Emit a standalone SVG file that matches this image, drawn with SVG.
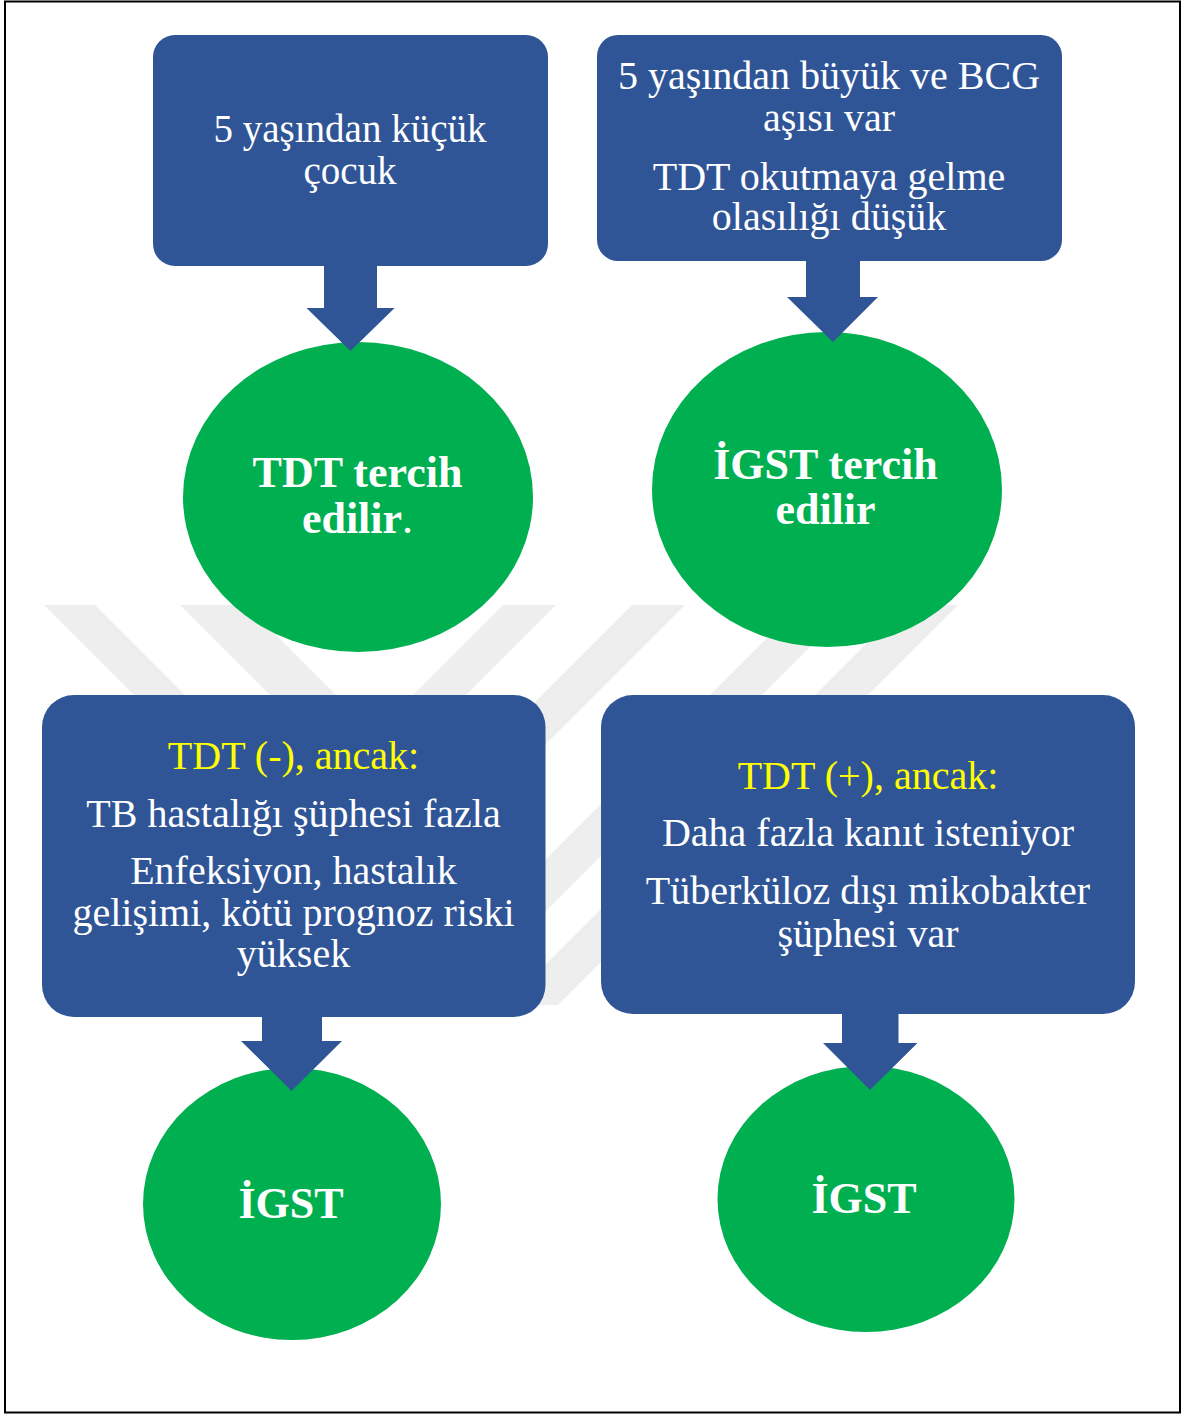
<svg xmlns="http://www.w3.org/2000/svg" width="1187" height="1414" viewBox="0 0 1187 1414">
  <style>
    .box { fill: #2F5597; }
    .oval { fill: #00B050; }
    .arrow { fill: #2F5597; }
    .wm { fill: #EEEEEE; }
    .t { font-family: "Liberation Serif", "Times New Roman", serif; font-size: 40px; fill: #FFFFFF; text-anchor: middle; }
    .y { fill: #FFFF00; }
    .b { font-family: "Liberation Serif", "Times New Roman", serif; font-size: 44px; font-weight: bold; fill: #FFFFFF; text-anchor: middle; }
  </style>
  <rect x="0" y="0" width="1187" height="1414" fill="#FFFFFF"/>
  <g id="watermark">
    <polygon class="wm" points="44,605 95,605 190,700 139,700"/>
    <polygon class="wm" points="180,605 246,605 341,700 275,700"/>
    <polygon class="wm" points="503,605 556,605 461,700 408,700"/>
    <polygon class="wm" points="632,605 685,605 400,890 347,890"/>
    <polygon class="wm" points="800,605 852,605 452,1005 400,1005"/>
    <polygon class="wm" points="905,605 958,605 558,1005 505,1005"/>
  </g>
  <rect x="5" y="1.5" width="1175" height="1411" fill="none" stroke="#000000" stroke-width="2"/>

  <g id="box1">
    <rect class="box" x="153" y="35" width="395" height="231" rx="22" ry="22"/>
    <text class="t" x="350" y="142" style="font-size:39px">5 yaşından küçük</text>
    <text class="t" x="350" y="184" style="font-size:39px">çocuk</text>
  </g>
  <g id="box2">
    <rect class="box" x="597" y="35" width="465" height="226" rx="21" ry="21"/>
    <text class="t" x="829" y="89">5 yaşından büyük ve BCG</text>
    <text class="t" x="829" y="131">aşısı var</text>
    <text class="t" x="829" y="190">TDT okutmaya gelme</text>
    <text class="t" x="829" y="230">olasılığı düşük</text>
  </g>
  <g id="box3">
    <rect class="box" x="42" y="695" width="503.5" height="322" rx="32" ry="32"/>
    <text class="t y" x="293.5" y="769">TDT (-), ancak:</text>
    <text class="t" x="293.5" y="827">TB hastalığı şüphesi fazla</text>
    <text class="t" x="293.5" y="884">Enfeksiyon, hastalık</text>
    <text class="t" x="293.5" y="926">gelişimi, kötü prognoz riski</text>
    <text class="t" x="293.5" y="967">yüksek</text>
  </g>
  <g id="box4">
    <rect class="box" x="601" y="695" width="534" height="319" rx="32" ry="32"/>
    <text class="t y" x="868" y="789">TDT (+), ancak:</text>
    <text class="t" x="868" y="846">Daha fazla kanıt isteniyor</text>
    <text class="t" x="868" y="904">Tüberküloz dışı mikobakter</text>
    <text class="t" x="868" y="947">şüphesi var</text>
  </g>
  <g id="oval1">
    <ellipse class="oval" cx="358" cy="497" rx="175" ry="155"/>
    <text class="b" x="357.5" y="487">TDT tercih</text>
    <text class="b" x="357.5" y="533">edilir<tspan font-weight="normal">.</tspan></text>
  </g>
  <g id="oval2">
    <ellipse class="oval" cx="827" cy="489.5" rx="175" ry="157.5"/>
    <text class="b" x="825.5" y="479">İGST tercih</text>
    <text class="b" x="825.5" y="524">edilir</text>
  </g>
  <g id="oval3">
    <ellipse class="oval" cx="292" cy="1204" rx="149" ry="136"/>
    <text class="b" x="291" y="1218">İGST</text>
  </g>
  <g id="oval4">
    <ellipse class="oval" cx="866" cy="1199" rx="148.5" ry="133"/>
    <text class="b" x="864" y="1213">İGST</text>
  </g>

  <g id="connectors">
    <polygon class="arrow" points="324,264 377,264 377,308 394.6,308 350.5,351 306.5,308 324,308"/>
    <polygon class="arrow" points="806,259 860,259 860,297 878,297 833,342 787,297 806,297"/>
    <polygon class="arrow" points="262,1015 322,1015 322,1041 342,1041 291.6,1091 241,1041 262,1041"/>
    <polygon class="arrow" points="842,1012 898.5,1012 898.5,1043 917.5,1043 870,1090 823,1043 842,1043"/>
  </g>
</svg>
